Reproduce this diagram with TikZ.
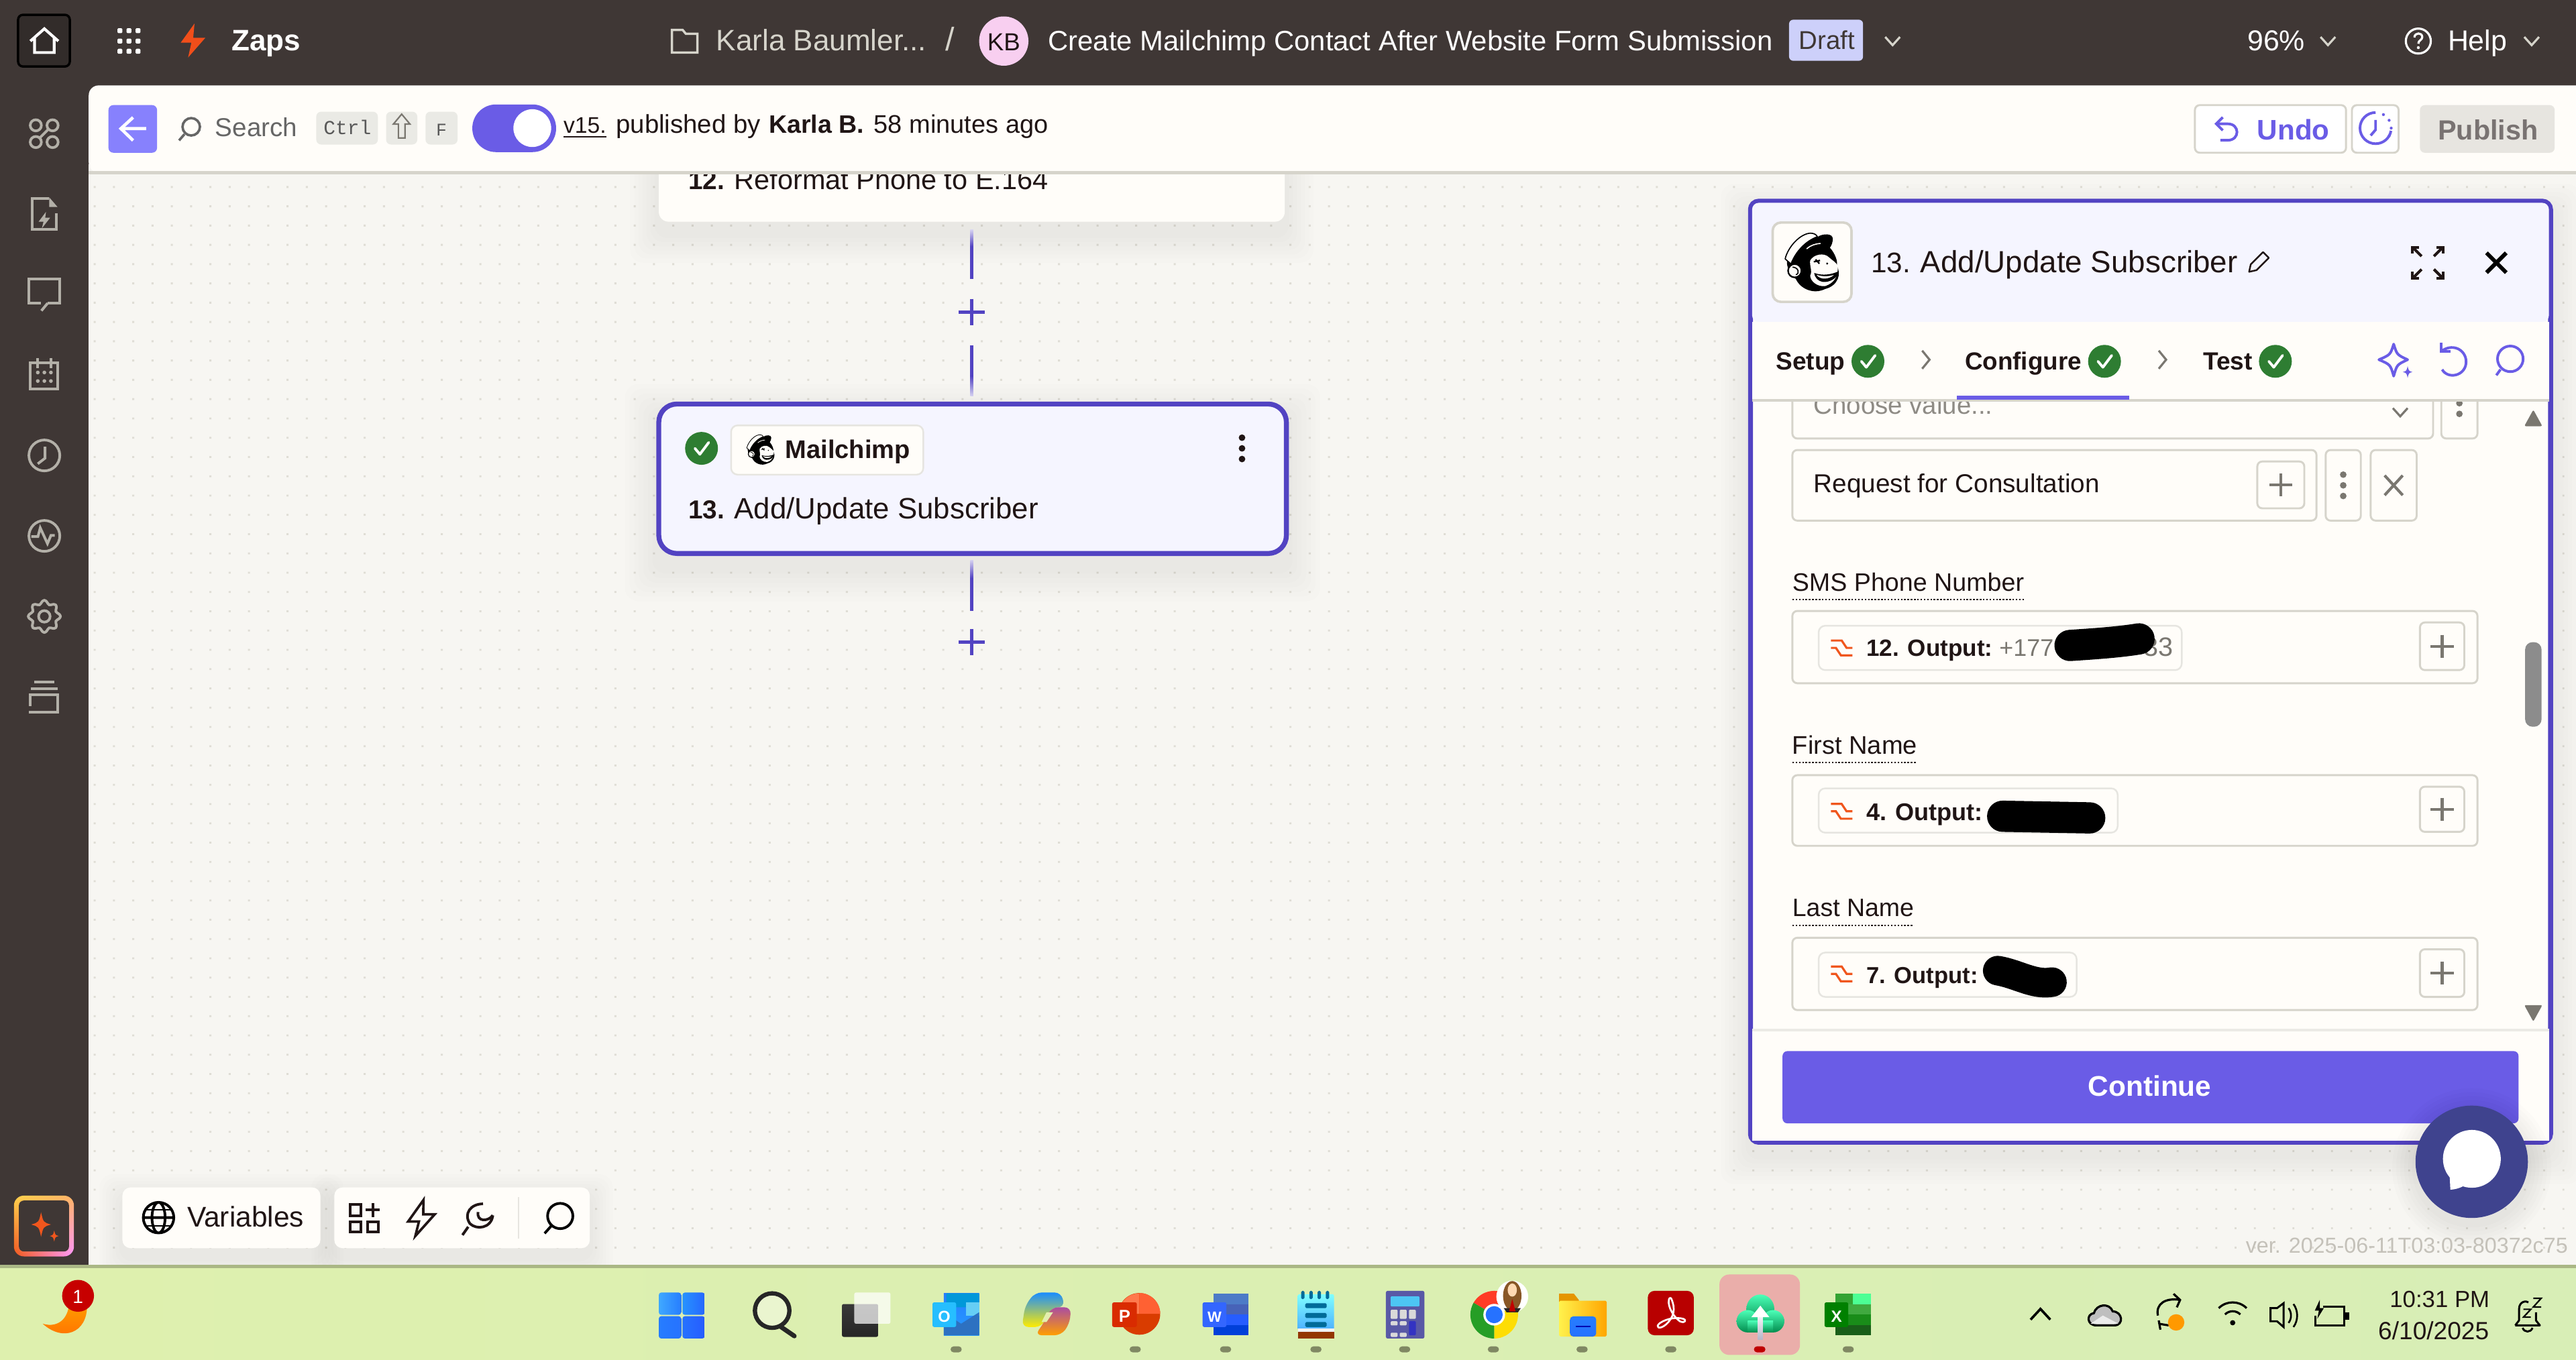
\documentclass[tikz,border=0pt]{standalone}
\usepackage{fontspec}
\setmainfont{Liberation Sans}
\newfontfamily\zmono{Liberation Mono}
\usetikzlibrary{calc,shadings}
\definecolor{barC}{HTML}{3F3735}
\definecolor{whiteC}{HTML}{FFFDF9}
\definecolor{canvasC}{HTML}{F7F6F2}
\definecolor{lineC}{HTML}{D6D4CB}
\definecolor{dotC}{HTML}{DFDDD5}
\definecolor{ink}{HTML}{201515}
\definecolor{sideC}{HTML}{B3B0A8}
\definecolor{purpleC}{HTML}{6A5CE6}
\definecolor{deepC}{HTML}{5243C2}
\definecolor{paleC}{HTML}{F5F5FF}
\definecolor{greenC}{HTML}{2E7D32}
\definecolor{orangeC}{HTML}{F0561D}
\definecolor{grayT}{HTML}{7A7770}
\definecolor{tbA}{HTML}{DEF0AE}
\definecolor{tbB}{HTML}{E4EFAE}
\definecolor{tbC}{HTML}{D8EEB6}
\definecolor{tickC}{HTML}{808863}
\definecolor{chatC}{HTML}{3F438E}
\definecolor{backC}{HTML}{8781FD}
\definecolor{draftC}{HTML}{CDD0FA}
\definecolor{kbC}{HTML}{F8CFF0}
\definecolor{hlC}{HTML}{EAAEAA}
\tikzset{
  txt/.style={anchor=base west,inner sep=0pt,outer sep=0pt},
  field/.style={draw=lineC,line width=1.2pt,fill=whiteC,rounded corners=3pt},
  chip/.style={draw=lineC!60,line width=1pt,fill=whiteC,rounded corners=4pt},
  key/.style={fill=lineC!50,rounded corners=3pt},
  scard/.style={draw=none,fill=whiteC,rounded corners=6pt,inner sep=0pt},
  conn/.style={draw=deepC,line width=1.8pt},
  plusnode/.style={inner sep=0pt,minimum size=16pt,draw=none},
  side/.style={draw=sideC,line width=1.6pt},
  pen/.style={draw=black,line width=1.6pt},
  pur/.style={draw=purpleC,line width=1.6pt},
  blobby/.style={draw=black,line cap=round,line join=round},
  tick/.style={fill=tickC,rounded corners=1.8pt}
}
\newcommand{\lbl}[6]{\node[txt,text=#5] (#1) at (#2,#3) {\resizebox{#4pt}{!}{#6}};}
\newcommand{\zchk}[2]{\fill[greenC] (#1,#2) circle (10);
  \draw[white,line width=1.6pt,line cap=round,line join=round] (#1-4,#2) -- (#1-1,#2+3.6) -- (#1+4.4,#2-3.6);}
\newcommand{\zplus}[2]{\draw[deepC,line width=2.2pt] (#1-8,#2) -- (#1+8,#2) (#1,#2-8) -- (#1,#2+8);}
\newcommand{\plusbox}[4]{\draw[field] (#1,#2) rectangle (#3,#4);
  \draw[grayT,line width=1.7pt] ({(#1+#3)/2-7},{(#2+#4)/2}) -- ({(#1+#3)/2+7},{(#2+#4)/2}) ({(#1+#3)/2},{(#2+#4)/2-7}) -- ({(#1+#3)/2},{(#2+#4)/2+7});}
\newcommand{\kebab}[3]{\foreach \d in {-6.5,0,6.5}{\fill[#3] (#1,#2+\d) circle (2);}}
\newcommand{\fmtico}[2]{\draw[orangeC,line width=1.3pt] (#1-6.5,#2-4.5) -- (#1,#2-4.5) -- (#1+3,#2) -- (#1+6.5,#2) (#1-6.5,#2) -- (#1-3.5,#2) -- (#1-.5,#2+4.5) -- (#1+6.5,#2+4.5);}
\newcommand{\spark}[4]{\fill[#4] (#1,#2-#3) .. controls (#1+.18*#3,#2-.18*#3) .. (#1+#3*.8,#2) .. controls (#1+.18*#3,#2+.18*#3) .. (#1,#2+#3) .. controls (#1-.18*#3,#2+.18*#3) .. (#1-#3*.8,#2) .. controls (#1-.18*#3,#2-.18*#3) .. cycle;}
\newcommand{\softshadow}[5]{\foreach \i in {1,...,7}{\fill[black,opacity=.008,rounded corners=8pt] ({#1-\i*#5},{#2-\i*#5+#5*3}) rectangle ({#3+\i*#5},{#4+\i*#5+#5*3});}}
\newcommand{\chevdown}[3]{\draw[#3,line width=1.3pt] (#1-4.5,#2-2.5) -- (#1,#2+2.5) -- (#1+4.5,#2-2.5);}
\newcommand{\chevright}[3]{\draw[#3,line width=1.3pt] (#1-2,#2-5.5) -- (#1+2.5,#2) -- (#1-2,#2+5.5);}
% Mailchimp logo in a 355x355 design box
\newcommand{\monkey}[3]{\begin{scope}[shift={(#1,#2)},x=#3pt,y=-#3pt]
  \fill[black] (130,240) .. controls (130,170) and (190,130) .. (265,128) .. controls (290,110) and (335,110) .. (335,135) .. controls (335,150) and (330,165) .. (322,175) .. controls (345,200) and (360,240) .. (352,255) .. controls (375,290) and (360,345) .. (300,360) .. controls (250,385) and (190,360) .. (170,315) .. controls (150,300) and (130,270) .. cycle;
  \draw[black,line width=5*#3 pt,fill=whiteC,line join=round] (122,225) .. controls (135,170) and (190,112) .. (235,110) .. controls (250,110) and (262,116) .. (266,126) .. controls (215,145) and (170,190) .. (148,248) -- cycle;
  \draw[whiteC,line width=5*#3 pt] (218,180) .. controls (235,165) and (255,158) .. (280,156);
  \fill[whiteC] (234,232) .. controls (250,205) and (295,195) .. (318,218) .. controls (330,230) and (350,240) .. (356,255) .. controls (362,290) and (350,330) .. (300,347) .. controls (265,350) and (235,325) .. (234,300) .. controls (245,280) and (230,255) .. cycle;
  \draw[black,line width=7*#3 pt,fill=whiteC] (165,278) circle (30);
  \draw[black,line width=5*#3 pt] (155,262) .. controls (180,262) and (190,290) .. (170,296);
  \draw[black,line width=7*#3 pt] (250,238) -- (278,232) (258,228) -- (275,246);
  \fill[black] (310,246) circle (5);
  \fill[black] (252,288) .. controls (290,302) and (330,295) .. (362,280) .. controls (360,310) and (320,332) .. (290,328) .. controls (270,325) and (255,310) .. cycle;
  \fill[whiteC] (262,296) .. controls (290,306) and (320,303) .. (340,297) .. controls (320,316) and (280,322) .. cycle;
\end{scope}}
\begin{document}
\begin{tikzpicture}[x=1pt,y=-1pt]
\useasboundingbox (0,0) rectangle (1568,828.08);
% ---- canvas and frame
\fill[barC] (0,0) rectangle (1568,771);
\fill[canvasC] (54,100) rectangle (1568,771);
\foreach \i [evaluate=\i as \xx using 57.6+11.74*\i] in {0,...,128}{
  \fill[dotC] \foreach \j [evaluate=\j as \yy using 113.9+11.74*\j] in {0,...,55}{(\xx-.6,\yy-.6) rectangle (\xx+.6,\yy+.6)};
}
% ---- cards and connectors
\softshadow{401}{65}{782}{135}{2.5}
\node[scard,minimum width=381pt,minimum height=70pt] (card12) at (591.5,100) {};
\lbl{c12n}{419}{115.3}{22}{ink}{\bfseries 12.}
\lbl{c12t}{447}{115.3}{191}{ink}{Reformat Phone to E.164}
\softshadow{400}{245}{784}{338}{2.8}
\node[draw=deepC,line width=3pt,fill=paleC,rounded corners=11pt,minimum width=382pt,minimum height=91pt,inner sep=0pt] (card13) at (592,291.5) {};
\node[plusnode] (plusA) at (591.5,190) {};
\node[plusnode] (plusB) at (591.5,391) {};
\zplus{591.5}{190}
\zplus{591.5}{391}
\draw[conn] ($(card12.south)+(0,5)$) -- ($(plusA.north)+(0,-12)$);
\draw[conn] ($(plusA.south)+(0,12)$) -- ($(card13.north)+(-.5,-4)$);
\draw[conn] ($(card13.south)+(-.5,3)$) -- ($(plusB.north)+(0,-11)$);
\shade[top color=deepC!25,bottom color=deepC] (590.6,140) rectangle (592.4,150);
\shade[top color=deepC,bottom color=deepC!25] (590.6,229) rectangle (592.4,241);
\shade[top color=deepC!25,bottom color=deepC] (590.6,341) rectangle (592.4,352);
\zchk{427}{273}
\draw[chip] (445,259) rectangle (562,289);
\monkey{446}{257}{.07}
\lbl{mc}{478}{279}{76}{ink}{\bfseries Mailchimp}
\kebab{756}{273}{ink}
\lbl{c13n}{419}{316}{22}{ink}{\bfseries 13.}
\lbl{c13t}{447}{316}{185}{ink}{Add/Update Subscriber}
% ---- header bar
\fill[whiteC,rounded corners=6pt] (54,105) -- (54,52) -- (1600,52) -- (1600,105) -- cycle;
\fill[whiteC] (60,60) rectangle (1568,105);
\fill[lineC] (54,104) rectangle (1568,106);
% ---- top bar contents
\draw[black,line width=1.4pt,fill=barC!80!black,rounded corners=3pt] (11,9) rectangle (42.5,40.5);
\draw[white,line width=1.7pt,line join=miter] (18.5,25) -- (27,17.5) -- (35.5,25) (21,23) -- (21,32) -- (33,32) -- (33,23);
\foreach \a in {73,78.5,84}{\foreach \b in {18.7,25,31.2}{\fill[white,rounded corners=.6pt] (\a-1.5,\b-1.5) rectangle (\a+1.5,\b+1.5);}}
\fill[orangeC!90!red] (118.4,14.3) -- (110,26) -- (116.5,26) -- (114.5,35) -- (125,23) -- (117.6,23) -- cycle;
\lbl{zaps}{141}{31}{42}{white}{\bfseries Zaps}
\draw[lineC,line width=1.4pt] (409,32) -- (409,18.2) -- (415.5,18.2) -- (417.5,20.6) -- (424.5,20.6) -- (424.5,32) -- cycle;
\lbl{crumb}{436}{31}{128}{lineC}{Karla Baumler...}
\lbl{slash}{575.5}{31}{5.5}{lineC}{/}
\node[circle,fill=kbC,minimum size=30pt,inner sep=0pt] (kb) at (611,25) {};
\lbl{kbt}{601}{31}{20}{ink}{KB}
\lbl{title}{638}{31}{441}{white}{Create Mailchimp Contact After Website Form Submission}
\fill[draftC,rounded corners=2.5pt] (1089,12) rectangle (1134,37);
\lbl{draft}{1095}{30}{34}{barC}{Draft}
\chevdown{1152}{25}{lineC}
\lbl{zoomv}{1368}{31}{35}{white}{96\%}
\chevdown{1417}{25}{lineC}
\draw[white,line width=1.3pt] (1472,25) circle (7.6);
\draw[white,line width=1.3pt] (1469.6,22.8) .. controls (1469.8,19.6) and (1474.4,19.6) .. (1474.4,22.6) .. controls (1474.4,24.4) and (1472,24.4) .. (1472,26.6);
\fill[white] (1472,29) circle (.9);
\lbl{help}{1490}{31}{36}{white}{Help}
\chevdown{1541}{25}{lineC}
% ---- side bar
\foreach \a in {21.8,32}{\foreach \b in {76.3,86.5}{\draw[side] (\a,\b) circle (3.4);}}
\draw[side] (24.2,84) -- (29.5,78.6);
\draw[side] (30,121) -- (19.6,121) -- (19.6,139.7) -- (34.2,139.7) -- (34.2,130);
\fill[sideC] (30,120.2) -- (35,126) -- (30,126) -- cycle;
\fill[sideC] (28,129) -- (23.5,135) -- (26.5,135) -- (25.5,139) -- (30.5,132.6) -- (27.5,132.6) -- cycle;
\draw[side] (29,184.6) -- (36.2,184.6) -- (36.2,169.8) -- (17.5,169.8) -- (17.5,184.6) -- (25,184.6);
\draw[side] (29,184.6) -- (25.2,189.2);
\draw[side] (18.5,221) -- (35.2,221) -- (35.2,236.9) -- (18.5,236.9) -- cycle;
\draw[side] (23,218) -- (23,224) (31,218) -- (31,224);
\foreach \a in {23,27,31}{\foreach \b in {226.8,232}{\fill[sideC] (\a,\b) circle (1.15);}}
\draw[side] (27,277.3) circle (9.4);
\draw[side] (27.4,272) -- (27.4,279) -- (23,282.4);
\draw[side] (27,326.3) circle (9.4);
\draw[side,line join=miter] (19,326.7) -- (23.1,326.7) -- (24.5,321.4) -- (28.9,331) -- (31,326) -- (33.3,326);
\draw[side] plot[smooth cycle,domain=0:352.5,samples=48] ({27+(8.7+1.1*cos(8*\x))*cos(\x)},{375.3+(8.7+1.1*cos(8*\x))*sin(\x)});
\draw[side] (27,375.3) circle (3.5);
\draw[side] (20.8,415.2) -- (33,415.2) (18.8,419.3) -- (35,419.3);
\draw[side] (18.5,430) -- (18.5,423) -- (35.2,423) -- (35.2,433.6) -- (17.7,433.6);
% sparkle button
\shade[rounded corners=6pt,upper left=orange!50!yellow!70!white,upper right=orange!60,lower left=orangeC,lower right=magenta!40!white] (8.5,728) rectangle (45,765);
\fill[barC,rounded corners=3pt] (11.5,731) rectangle (42,762);
\spark{25}{745.6}{7.5}{orangeC}
\spark{33}{752.6}{3.4}{orangeC}
% ---- header contents
\fill[backC,rounded corners=3pt] (66,64) rectangle (95.6,93);
\draw[white,line width=1.9pt] (89,78.3) -- (73.6,78.3) (81,71.5) -- (73.6,78.3) -- (81,85.5);
\draw[black!60,line width=1.5pt] (116.4,77.2) circle (5.3) (112.2,81.8) -- (109,85.5);
\lbl{search}{131}{83}{50}{black!60}{Search}
\fill[key] (192.5,68) rectangle (230,88);
\fill[key] (235,68) rectangle (254,88);
\fill[key] (259,68) rectangle (278.5,88);
\lbl{kctrl}{197}{82}{29}{black!65}{\zmono Ctrl}
\draw[grayT,line width=.9pt,line join=miter] (244.5,69.5) -- (239.5,75.5) -- (242.5,75.5) -- (242.5,84) -- (246.5,84) -- (246.5,75.5) -- (249.5,75.5) -- cycle;
\lbl{kf}{265.5}{82.5}{6.5}{black!65}{\zmono F}
\fill[purpleC,rounded corners=14.4pt] (287.5,63.6) rectangle (338.5,92.6);
\fill[white] (324,78) circle (11.5);
\lbl{ver}{343}{81}{26}{ink}{v15.}
\draw[ink,line width=1pt] (343,83.2) -- (369,83.2);
\lbl{pub}{375}{81}{88}{ink}{published by}
\lbl{pubn}{468}{81}{58}{ink}{\bfseries Karla B.}
\lbl{pubt}{532}{81}{106}{ink}{58 minutes ago}
\draw[field,fill=white] (1336,64) rectangle (1428,93);
\draw[pur,line join=miter] (1353,71.4) -- (1349,75.4) -- (1353,79.4);
\draw[pur] (1349,75.4) -- (1356,75.4) .. controls (1363.5,75.4) and (1363.5,85.4) .. (1356,85.4) -- (1351.5,85.4);
\lbl{undo}{1374}{85}{44}{purpleC}{\bfseries Undo}
\draw[field,fill=white] (1431.6,64) rectangle (1460,93);
\draw[pur] (1446,68.5) arc[start angle=-90,end angle=-350,radius=9.5];
\draw[pur] (1446,73) -- (1446,79) -- (1443,82.5);
\foreach \p in {-60,-30,0,30}{\fill[purpleC] ($(1446,78)+(\p:9.5)$) circle (.9);}
\fill[lineC!60,rounded corners=3pt] (1473,64) rectangle (1555,93);
\lbl{publish}{1484}{85}{61}{barC!70}{\bfseries Publish}
% ---- side panel
\softshadow{1065}{122}{1553}{696}{2.5}
\node[draw=deepC,line width=3pt,fill=whiteC,rounded corners=5pt,minimum width=487pt,minimum height=573pt,inner sep=0pt] (panel) at (1309,409) {};
% fields (scroll region)
\draw[field] (1091,225) rectangle (1481,267);
\chevdown{1461}{251}{grayT}
\lbl{choose}{1104}{252}{109}{grayT!85}{Choose value...}
\draw[field] (1486,225) rectangle (1508,267);
\fill[grayT] (1497,245.5) circle (2) (1497,252) circle (2);
\draw[field] (1091,274) rectangle (1410,317);
\lbl{req}{1104}{300}{174}{ink}{Request for Consultation}
\plusbox{1374}{281}{1402.6}{309.5}
\draw[field] (1415.6,274) rectangle (1437,317);
\kebab{1426.3}{295.5}{grayT}
\draw[field] (1443,274) rectangle (1471,317);
\draw[grayT,line width=1.7pt] (1451.5,289.5) -- (1462.5,301.5) (1462.5,289.5) -- (1451.5,301.5);
% SMS
\lbl{lsms}{1091}{360}{141}{ink}{SMS Phone Number}
\draw[ink,line width=1pt,dash pattern=on 1pt off 1pt] (1091,365) -- (1232,365);
\draw[field] (1091,372) rectangle (1508,416);
\draw[chip] (1107,381) rectangle (1328,408);
\fmtico{1121}{394.5}
\lbl{osms}{1136}{399.6}{77}{ink}{\bfseries 12. Output:}
\lbl{vsms}{1217}{399.6}{33}{grayT}{+177}
\lbl{vsmsb}{1305}{399.6}{18}{grayT}{33}
\draw[blobby,line width=19pt] (1260,393) .. controls (1275,392) and (1290,391) .. (1302,389);
\plusbox{1473}{379}{1500}{408}
% First
\lbl{lfirst}{1091}{459}{76}{ink}{First Name}
\draw[ink,line width=1pt,dash pattern=on 1pt off 1pt] (1091,464.3) -- (1167,464.3);
\draw[field] (1091,472) rectangle (1508,515);
\draw[chip] (1107,480) rectangle (1289,507);
\fmtico{1121}{494}
\lbl{ofirst}{1136}{499.4}{71}{ink}{\bfseries 4. Output:}
\draw[blobby,line width=19pt] (1219,497) -- (1272,498);
\plusbox{1473}{479}{1500}{506.5}
% Last
\lbl{llast}{1091}{558}{74}{ink}{Last Name}
\draw[ink,line width=1pt,dash pattern=on 1pt off 1pt] (1091,563.5) -- (1165,563.5);
\draw[field] (1091,571) rectangle (1508,615);
\draw[chip] (1107,580) rectangle (1264,607);
\fmtico{1121}{593}
\lbl{olast}{1136}{599}{68}{ink}{\bfseries 7. Output:}
\draw[blobby,line width=18pt] (1216,591) .. controls (1228,593) and (1238,600) .. (1249,598);
\plusbox{1473}{578}{1500}{607}
% scroll bar
\fill[grayT,rounded corners=1pt] (1542,249.5) -- (1547.5,259.5) -- (1536.5,259.5) -- cycle;
\fill[black!45,rounded corners=4.5pt] (1537,391) rectangle (1547,442.5);
\fill[grayT,rounded corners=1pt] (1542,622) -- (1547.5,612) -- (1536.5,612) -- cycle;
% bottom of panel
\fill[whiteC] (1066.5,627) rectangle (1551.5,694.5);
\fill[lineC!50] (1066.5,626.5) rectangle (1551.5,628);
\node[fill=purpleC,rounded corners=3pt,minimum width=448pt,minimum height=44pt,inner sep=0pt] (cont) at (1309,662) {};
\lbl{contt}{1271}{667.6}{75}{white}{\bfseries Continue}
% panel head
\fill[paleC,rounded corners=4pt] (1066.5,123.5) -- (1551.5,123.5) -- (1551.5,196) -- (1066.5,196) -- cycle;
\fill[whiteC] (1066.5,196) rectangle (1551.5,243);
\fill[lineC] (1066.5,243) rectangle (1551.5,244.4);
\draw[field,line width=1.5pt,rounded corners=5pt] (1079,135.5) rectangle (1127,183.8);
\monkey{1070}{127}{.1361}
\lbl{pn}{1139}{166}{24}{ink}{13.}
\lbl{pt}{1169}{166}{193}{ink}{Add/Update Subscriber}
\draw[ink,line width=1pt,line join=round] (1369,165.5) -- (1370,161) -- (1377.5,153.5) -- (1381,157) -- (1373.5,164.5) -- cycle;
\draw[ink,line width=1.7pt] (1468.5,154.5) -- (1468.5,150.5) -- (1472.5,150.5) (1483,150.5) -- (1487,150.5) -- (1487,154.5) (1468.5,165.5) -- (1468.5,169.5) -- (1472.5,169.5) (1483,169.5) -- (1487,169.5) -- (1487,165.5);
\draw[ink,line width=1.7pt] (1468.5,150.5) -- (1474,156) (1487,150.5) -- (1481.5,156) (1468.5,169.5) -- (1474,164) (1487,169.5) -- (1481.5,164);
\draw[black,line width=2.4pt] (1513.5,154) -- (1525.5,166) (1525.5,154) -- (1513.5,166);
\lbl{tsetup}{1081}{225}{42}{ink}{\bfseries Setup}
\zchk{1137}{220}
\chevright{1172}{219}{grayT}
\lbl{tconf}{1196}{225}{71}{ink}{\bfseries Configure}
\zchk{1281}{220}
\chevright{1316}{219}{grayT}
\lbl{ttest}{1341}{225}{30}{ink}{\bfseries Test}
\zchk{1385}{220}
\fill[purpleC] (1191,241) rectangle (1296,243.5);
\draw[pur,line join=round] (1457,209.5) .. controls (1459,216) .. (1465.5,219) .. controls (1459,222) .. (1457,229) .. controls (1455,222) .. (1448,219) .. controls (1455,216) .. cycle;
\spark{1465.5}{226.5}{3.6}{purpleC}
\draw[pur] (1486.5,213.5) .. controls (1494,208.5) and (1502,214) .. (1501,221.5) .. controls (1500,229) and (1490,231) .. (1486.5,225);
\draw[pur] (1486,208.5) -- (1486,214) -- (1491.5,214);
\draw[pur] (1528,218.5) circle (7.8);
\draw[pur] (1522,225) -- (1519.5,228.5);
% chat bubble
\foreach \i in {1,...,6}{\fill[black,opacity=.012] (1504.5,711) circle ({34+\i*2.4});}
\node[circle,fill=chatC,minimum size=68.4pt,inner sep=0pt] (chat) at (1504.5,707.4) {};
\fill[white] (1504.6,705.6) circle (17.6);
\fill[white] (1491,714) -- (1491.5,724.4) .. controls (1497,724) and (1500,722) .. (1503,720) -- cycle;
\lbl{verstr}{1367}{763}{196}{lineC!80!grayT}{ver. 2025-06-11T03:03-80372c75}
% bottom tool cards
\softshadow{74.5}{723}{195}{760}{2}
\softshadow{203.5}{723}{359}{760}{2}
\node[scard,rounded corners=5pt,minimum width=120.5pt,minimum height=37pt] (varc) at (134.75,741.5) {};
\node[scard,rounded corners=5pt,minimum width=155.5pt,minimum height=37pt] (toolc) at (281.25,741.5) {};
\draw[pen] (96.5,741.4) circle (9.3) (96.5,741.4) ellipse (4 and 9.3) (87.5,741.4) -- (105.5,741.4);
\draw[black,line width=.8pt] (89,736.5) -- (104,736.5) (89,746.5) -- (104,746.5);
\lbl{vars}{114}{747}{71}{ink}{Variables}
\draw[ink,line width=1.6pt] (213.2,733.4) rectangle (219.6,740.4) (213.2,743.8) rectangle (219.6,750.2) (223.8,743.8) rectangle (230.2,750.2);
\draw[ink,line width=1.6pt] (226.9,732.4) -- (226.9,741) (222.5,736.8) -- (231.2,736.8);
\draw[ink,line width=1.5pt,line join=miter] (257.8,730.6) -- (248.4,743.8) -- (255,743.8) -- (252.8,752.6) -- (264.6,739.4) -- (257.6,739.4) -- cycle;
\draw[ink,line width=1.6pt] (294,733) .. controls (286.5,733) and (282,739) .. (286,745) .. controls (290,749) and (299,748) .. (300,740) (300,740) .. controls (297,744) and (290,744) .. (291,738);
\draw[ink,line width=1.6pt] (285,747) -- (281.5,752);
\fill[lineC!60] (315.1,729) rectangle (316,754);
\draw[pen] (341,740.4) circle (7.7) (335.6,746.4) -- (331.5,751);
% ---- taskbar
\shade[left color=tbA,middle color=tbB,right color=tbC] (0,771) rectangle (1568,828.08);
\fill[tickC!55!tbA] (0,770) rectangle (1568,772);
% ---- taskbar left
\shade[top color=orange!70!yellow,bottom color=orange!85!red] (53,795) .. controls (53,812) and (38,817) .. (26,806) .. controls (36,809) and (43,802) .. (42,790) -- cycle;
\node[circle,fill=red!78!black,minimum size=19.4pt,inner sep=0pt] (badge) at (47.5,789) {};
\lbl{badget}{44.3}{793.6}{6.4}{white}{1}
% Windows
\shade[left color=cyan!55!blue!75!white,right color=cyan!40!blue!85,rounded corners=1.5pt] (401,787) rectangle (414.6,800.6);
\shade[left color=cyan!50!blue!85,right color=cyan!30!blue!85,rounded corners=1.5pt] (415.4,787) rectangle (429,800.6);
\shade[left color=cyan!40!blue!85,right color=cyan!35!blue!85,rounded corners=1.5pt] (401,801.4) rectangle (414.6,815);
\shade[left color=cyan!35!blue!85,right color=cyan!25!blue!85,rounded corners=1.5pt] (415.4,801.4) rectangle (429,815);
% search
\fill[white,opacity=.4] (470,798) circle (10);
\draw[black!85,line width=2.6pt] (470,798) circle (10.5);
\draw[black!85,line width=2.8pt,line cap=round] (475.5,808) -- (483.5,813.5);
% task view
\shade[top color=black!78,bottom color=black!85,rounded corners=1pt] (512.5,794) rectangle (534.5,814);
\fill[white,opacity=.72,rounded corners=1pt] (520,787) rectangle (542,806);
% outlook
\shade[top color=cyan!40!blue!85,bottom color=cyan!55!blue!85] (574.5,787.5) rectangle (596,813);
\fill[blue!30!cyan!85!black,rounded corners=.5pt] (576,787.5) rectangle (596,796);
\fill[cyan!60!white] (588,793) rectangle (596,801);
\fill[cyan!45!blue!90] (574.5,813) -- (596,813) -- (596,799) -- (585,806) -- (574.5,799) -- cycle;
\fill[blue!30!cyan!85,rounded corners=1pt] (567.6,793) rectangle (582,808);
\node[txt,text=white] (ol) at (571,805) {\resizebox{7.5pt}{!}{\bfseries O}};
% copilot
\shade[top color=cyan!50!blue!90,middle color=green!55!black!70!yellow,bottom color=yellow!85!orange,rounded corners=4pt] (630,787) -- (646,787) -- (648,796) -- (640,796) -- (634,808) -- (622,808) -- (624,795) -- cycle;
\shade[top color=purple!70!blue!70!white,middle color=magenta!55!orange!85,bottom color=orange!75!yellow,rounded corners=4pt] (640,796) -- (652,796) -- (651,806) -- (646,813) -- (630,813) -- (635,806) -- cycle;
\fill[tbB] (637,799) -- (641,799) -- (637,805) -- (634,805) -- cycle;
% powerpoint
\fill[orange!55!red!85!black] (693.5,800) circle (12.7);
\fill[orange!50!red!70!white] (693.5,800) -- (681,800) arc[start angle=180,end angle=270,radius=12.5] -- cycle;
\fill[orange!45!red!80!white] (693.5,800) -- (693.5,787.3) arc[start angle=-90,end angle=0,radius=12.7] -- cycle;
\fill[orange!40!red!85!black,rounded corners=1pt] (677,793) rectangle (692,808);
\node[txt,text=white] (pp) at (681,805) {\resizebox{7pt}{!}{\bfseries P}};
% word
\fill[cyan!40!blue!75!white] (738.5,787.5) rectangle (760,794);
\fill[cyan!25!blue!80] (738.5,794) rectangle (760,800.5);
\fill[blue!75!cyan!85] (738.5,800.5) rectangle (760,807);
\fill[blue!80!black!75!cyan] (738.5,807) rectangle (760,813);
\fill[blue!75!cyan!80,rounded corners=1pt] (732,793) rectangle (746.5,808);
\node[txt,text=white] (wd) at (735,805) {\resizebox{8.5pt}{!}{\bfseries W}};
% notepad
\shade[top color=cyan!50!white,bottom color=cyan!55!blue!70,rounded corners=1pt] (790,788) rectangle (812,810);
\fill[gray!10] (790,809) rectangle (812,811);
\fill[orange!50!black!85!red] (790,811) rectangle (812,815);
\foreach \a in {793,798,803,808}{\fill[blue!30!cyan!60!black,rounded corners=.7pt] (\a-1,786) rectangle (\a+1,791);}
\foreach \b in {795,801,806.5}{\fill[blue!30!cyan!60!black,rounded corners=.7pt] (794.5,\b-1.5) rectangle (807.5,\b+1.5);}
% calculator
\fill[gray!70!blue,rounded corners=1pt] (843.6,786) rectangle (867,815);
\fill[cyan!70!white,rounded corners=.5pt] (846.5,789.3) rectangle (864,795.5);
\foreach \a in {846.5,852,857.6}{\fill[gray!30!white,rounded corners=.5pt] (\a,797.5) rectangle (\a+4.2,803);}
\foreach \a in {846.5,852}{\foreach \b in {804.5,811.5}{\fill[gray!30!white,rounded corners=.5pt] (\a,\b) rectangle (\a+4.2,\b+2.5);}}
\fill[blue!70!black!80,rounded corners=.5pt] (857.6,804.5) rectangle (861.8,813);
% chrome
\fill[red!80!orange!85] (909.5,800.5) -- +(210:14.5) arc[start angle=210,end angle=330,radius=14.5] -- cycle;
\fill[yellow!80!orange] (909.5,800.5) -- +(-30:14.5) arc[start angle=-30,end angle=90,radius=14.5] -- cycle;
\fill[green!55!black!85] (909.5,800.5) -- +(90:14.5) arc[start angle=90,end angle=210,radius=14.5] -- cycle;
\fill[white] (909.5,800.5) circle (6.6);
\fill[blue!65!cyan!85] (909.5,800.5) circle (5.2);
\fill[white] (920.5,789.5) circle (9.7);
\fill[orange!45!black!85] (920.5,789) ellipse (5.6 and 9);
\fill[orange!30!white] (920.5,785.5) ellipse (2.8 and 4);
\fill[black!85] (915.3,796.5) -- (925.7,796.5) -- (924,799) -- (917,799) -- cycle;
\fill[red!75!black] (920.5,791) -- (922.5,798.5) -- (918.5,798.5) -- cycle;
% explorer
\fill[orange!70!yellow!90!black] (949,790) -- (949,787.7) -- (958,787.7) -- (961,791.5) -- (961,795) -- (949,795) -- cycle;
\shade[left color=yellow!85!orange!70!white,right color=orange!70!yellow,rounded corners=.8pt] (949,792) rectangle (978,813.8);
\shade[top color=cyan!40!blue!85,bottom color=blue!65!cyan!85,rounded corners=2pt] (955.6,801.5) rectangle (971.6,813.8);
\fill[blue!70!black] (959,807.2) rectangle (968.3,808.2);
% acrobat
\fill[red!72!black,rounded corners=4pt] (1003,786) rectangle (1031,813);
\draw[white,line width=1.1pt,line join=round] (1017.4,791) .. controls (1020,797) and (1019,802) .. (1014,806.5) .. controls (1010,810) and (1007,808) .. (1010.5,805.5) .. controls (1015,802.5) and (1021,802) .. (1024.5,803) .. controls (1027,803.8) and (1025.5,806) .. (1022.5,804.5) .. controls (1019,802) and (1015,796) .. (1015.8,791.5) .. controls (1016,790) and (1017.2,790) .. (1017.4,791);
% upload
\fill[hlC,rounded corners=6pt] (1046.6,776) rectangle (1095.6,825);
\shade[top color=cyan!60!green!70,bottom color=cyan!55!green!55!black] (1071.5,797) ellipse (8.5 and 8.8);
\shade[top color=cyan!60!green!70,bottom color=cyan!55!green!55!black] (1063.8,804.5) circle (6.8);
\shade[top color=cyan!60!green!70,bottom color=cyan!55!green!55!black] (1079.3,804.5) circle (6.8);
\shade[top color=cyan!60!green!70,bottom color=cyan!55!green!55!black] (1063.8,804) rectangle (1079.3,811.3);
\shade[top color=white,bottom color=blue!15!gray!50] (1070,799) rectangle (1073,815.5);
\fill[white] (1071.5,795) -- (1066,802) -- (1077,802) -- cycle;
% excel
\fill[green!60!cyan!70] (1117,787.5) rectangle (1139,794);
\fill[green!55!black!80] (1117,787.5) rectangle (1128,794);
\fill[green!55!black!75] (1117,794) rectangle (1139,800.5);
\fill[green!50!black!90] (1117,800.5) rectangle (1139,807);
\fill[green!30!black!90] (1117,807) rectangle (1139,813);
\fill[green!50!black,rounded corners=1pt] (1110.6,793) rectangle (1125,808);
\node[txt,text=white] (xl) at (1114.6,805) {\resizebox{6.6pt}{!}{\bfseries X}};
% running ticks
\foreach \a in {582,691,746,801,855,909,963,1017,1125}{\fill[tick] (\a-3.4,819.8) rectangle (\a+3.4,823.4);}
\fill[red!75!black,rounded corners=1.8pt] (1067.6,819.8) rectangle (1074.6,823.4);
% ---- tray
\draw[black,line width=1.5pt] (1236,803.5) -- (1242,797) -- (1248,803.5);
\draw[black,line width=1.3pt,fill=black!25] (1276,807) .. controls (1270,807) and (1270,800) .. (1274.5,799.6) .. controls (1276,794) and (1284,793) .. (1286,798.5) .. controls (1292,798.5) and (1293,807) .. (1287,807) -- cycle;
\fill[gray!15] (1272.5,806) -- (1280,801) -- (1289.5,806) -- cycle;
\draw[black,line width=1.3pt] (1313.5,801) .. controls (1312,794) and (1318,790) .. (1327,791.5) (1323,787.8) -- (1327,791.5) -- (1325,796);
\draw[black,line width=1.3pt] (1314,806) -- (1320,807) (1315,809.6) -- (1314,804);
\fill[orange!80!yellow] (1324.6,805.2) circle (5);
\foreach \r in {6.6,12}{\draw[black,line width=1.3pt] ($(1359,805)+(-135:\r)$) arc[start angle=-135,end angle=-45,radius=\r];}
\fill[black] (1359,805.4) circle (1.6);
\draw[black,line width=1.2pt,line join=miter] (1382,796.5) -- (1386,796.5) -- (1390,793.5) -- (1390,808) -- (1386,804.5) -- (1382,804.5) -- cycle;
\draw[black,line width=1.1pt] (1393,796.5) .. controls (1395,799) and (1395,803) .. (1393,805.5) (1396,794) .. controls (1399,798) and (1399,804) .. (1396,808);
\draw[black,line width=1.3pt] (1414,795.5) -- (1427,795.5) -- (1427,807) -- (1409.5,807) -- (1409.5,801);
\fill[black] (1427,799) rectangle (1430,803.5);
\fill[black] (1412,791.5) -- (1409,798) -- (1411.5,798) -- (1410.5,803) -- (1414.5,796.5) -- (1412,796.5) -- cycle;
\lbl{tm}{1454.6}{796}{60.8}{ink}{10:31 PM}
\lbl{dt}{1447.6}{815.5}{67.4}{ink}{6/10/2025}
\draw[black,line width=1.2pt,line join=round] (1531,807) -- (1533.3,804) -- (1533.3,797) .. controls (1533.5,792) and (1538,792) .. (1539,793) (1531,807) -- (1546,807) -- (1543.6,804) -- (1543.6,799);
\draw[black,line width=1.2pt] (1535.5,808.5) .. controls (1536.5,811.5) and (1540.5,811.5) .. (1541.5,808.5);
\draw[black,line width=.9pt,line join=miter] (1536,797.2) -- (1540.5,797.2) -- (1536,802) -- (1540.5,802) (1542,790.5) -- (1546.8,790.5) -- (1542,795.8) -- (1546.8,795.8);
\end{tikzpicture}
\end{document}
